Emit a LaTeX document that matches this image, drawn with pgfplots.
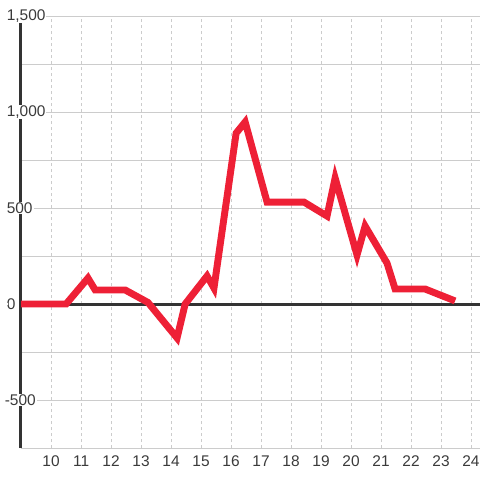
\documentclass[border=0pt]{standalone}
\usepackage{pgfplots}
\pgfplotsset{compat=1.18}
\usepackage{fontspec}
\setmainfont{Liberation Sans}
\definecolor{linered}{HTML}{EE2036}
\definecolor{axisdark}{HTML}{333333}
\definecolor{gridgray}{HTML}{CCCCCC}
\definecolor{labelgray}{HTML}{3A3A3A}
\begin{document}
\begin{tikzpicture}
\begin{axis}[
  at={(15.375pt,24pt)}, anchor=south west,
  scale only axis, width=344.625pt, height=324pt,
  xmin=8.98, xmax=24.3, ymin=-750, ymax=1500,
  xtick={10,...,24},
  ytick={-500,0,500,1000,1500},
  yticklabels={{\hspace{-1.5pt}-500},0,500,{1,000},{1,500}},
  minor ytick={-750,-250,250,750,1250},
  xmajorgrids, ymajorgrids, yminorgrids,
  major x grid style={gridgray, dash pattern=on 2.25pt off 2.25pt, line width=0.75pt},
  major y grid style={gridgray, line width=0.75pt},
  minor y grid style={gridgray, line width=0.75pt},
  extra y ticks={0}, extra y tick labels={},
  extra y tick style={grid=major, major y grid style={draw=axisdark, line width=2.25pt}},
  axis lines=left, separate axis lines,
  axis line style={-},
  x axis line style={draw=none},
  y axis line style={draw=axisdark, line width=2.25pt},
  major tick length=0pt, minor tick length=0pt,
  /pgf/number format/assume math mode=true,
  tick label style={font=\fontsize{11.6}{13}\selectfont, text=labelgray},
  yticklabel style={anchor=west, inner sep=0.75pt, fill=white, xshift=-11.25pt},
  xticklabel style={anchor=north, inner sep=0pt, yshift=-5.6pt},
]
\addplot[color=linered, line width=5.2pt, line join=miter, line cap=butt]
  coordinates {
  (9.0,0)(10.5,0)(11.23,135)(11.47,73)(12.47,73)(13.23,8)(14.2,-177)(14.47,0)
  (15.2,146)(15.43,83)(16.17,890)(16.47,948)(17.2,531)(18.43,531)(19.2,458)
  (19.47,656)(20.2,255)(20.47,406)(21.2,213)(21.47,78)(22.47,78)(23.47,16)
  };
\end{axis}
\pgfresetboundingbox
\path (0,0) rectangle (360pt,360pt);
\end{tikzpicture}
\end{document}
